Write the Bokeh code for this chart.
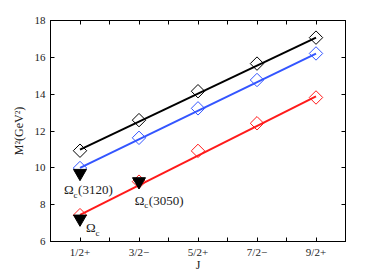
import numpy as np
from bokeh.plotting import figure
from bokeh.models import LinearAxis, FixedTicker, Range1d, ColumnDataSource
from bokeh.core.properties import value
from bokeh.embed import file_html
from bokeh.resources import INLINE

# data
j_pos = [1, 2, 3, 4, 5]
j_labels = ["1/2+", "3/2\u2212", "5/2+", "7/2\u2212", "9/2+"]
black_m2 = [10.93, 12.59, 14.16, 15.66, 17.07]
blue_m2 = [9.99, 11.63, 13.23, 14.77, 16.21]
red_m2 = [7.43, 9.25, 10.92, 12.42, 13.82]
black_fit = [10.99, 17.07]
blue_fit = [10.0, 16.2]
red_fit = [7.45, 13.88]
fit_x = [1, 5]
exp_x = [1, 1, 2]
exp_m2 = [9.71, 7.23, 9.26]
lab_x = [0.73, 1.1, 1.93]
lab_y = [8.8, 6.75, 8.25]
lab_main = ["\u03a9", "\u03a9", "\u03a9"]
lab_tail = ["(3120)", "", "(3050)"]
y_ticks = [6, 8, 10, 12, 14, 16, 18]
x_minor = [0.5, 1.5, 2.5, 3.5, 4.5, 5.5]

FONT = "Liberation Serif"
BLUE = "#3355ff"
RED = "#ff1a1a"

p = figure(frame_width=295, frame_height=221, output_backend="svg", toolbar_location=None,
           x_range=Range1d(0.5, 5.5), y_range=Range1d(6, 18),
           min_border_left=50, min_border_right=37, min_border_top=20, min_border_bottom=28)
p.grid.visible = False
p.outline_line_color = "black"
p.outline_line_width = 1
p.background_fill_color = "white"
p.border_fill_color = "white"

def style_axis(ax):
    ax.major_tick_in = 4
    ax.major_tick_out = 0
    ax.minor_tick_in = 4
    ax.minor_tick_out = 0
    ax.axis_line_color = "black"
    ax.major_tick_line_color = "black"
    ax.minor_tick_line_color = "black"
    ax.major_label_text_font = FONT
    ax.major_label_text_font_size = "11px"
    ax.major_label_text_color = "#222222"
    ax.axis_label_text_font = FONT
    ax.axis_label_text_font_size = "12px"
    ax.axis_label_text_font_style = "normal"
    ax.axis_label_text_color = "#222222"

p.xaxis.ticker = FixedTicker(ticks=j_pos, minor_ticks=x_minor)
p.xaxis.major_label_overrides = {k: v for k, v in zip(j_pos, j_labels)}
p.xaxis.axis_label = "J"
p.xaxis.axis_label_standoff = -3
p.xaxis.major_label_standoff = 4
p.yaxis.ticker = FixedTicker(ticks=y_ticks)
p.yaxis.axis_label = "M\u00b2(GeV\u00b2)"
p.yaxis.axis_label_standoff = 6
p.yaxis.major_label_standoff = 5
style_axis(p.xaxis[0])
style_axis(p.yaxis[0])

top = LinearAxis(ticker=FixedTicker(ticks=j_pos, minor_ticks=x_minor))
style_axis(top)
top.major_label_text_color = None
top.major_label_standoff = 0
top.major_label_overrides = {k: "" for k in j_pos}
p.add_layout(top, "above")
right = LinearAxis(ticker=FixedTicker(ticks=y_ticks))
style_axis(right)
right.major_label_text_color = None
right.major_label_standoff = 0
right.major_label_overrides = {k: "" for k in y_ticks}
p.add_layout(right, "right")

# fit lines
p.line(fit_x, black_fit, line_color="black", line_width=2)
p.line(fit_x, blue_fit, line_color=BLUE, line_width=2)
p.line(fit_x, red_fit, line_color=RED, line_width=2)

# diamonds
for ys, c in [(black_m2, "black"), (blue_m2, BLUE), (red_m2, RED)]:
    p.scatter(j_pos, ys, marker="square", angle=np.pi / 4, size=9.5,
              fill_color=None, line_color=c, line_width=1)

# experimental points
p.scatter(exp_x, exp_m2, marker="inverted_triangle", size=13,
          fill_color="black", line_color="black")

# labels
src = ColumnDataSource(dict(x=lab_x, y=lab_y, m=lab_main, t=lab_tail,
                            c=["c"] * 3))
p.text(x="x", y="y", text="m", source=src, text_font=value(FONT),
       text_font_size="13px", text_align="left", text_baseline="middle", text_color="#222222")
p.text(x="x", y="y", text="c", source=src, text_font=value(FONT),
       text_font_size="9px", text_align="left", text_baseline="middle",
       x_offset=9.5, y_offset=5, text_color="#222222")
p.text(x="x", y="y", text="t", source=src, text_font=value(FONT),
       text_font_size="13px", text_align="left", text_baseline="middle",
       x_offset=14, text_color="#222222")

open("out.html", "w").write(file_html(p, INLINE))
